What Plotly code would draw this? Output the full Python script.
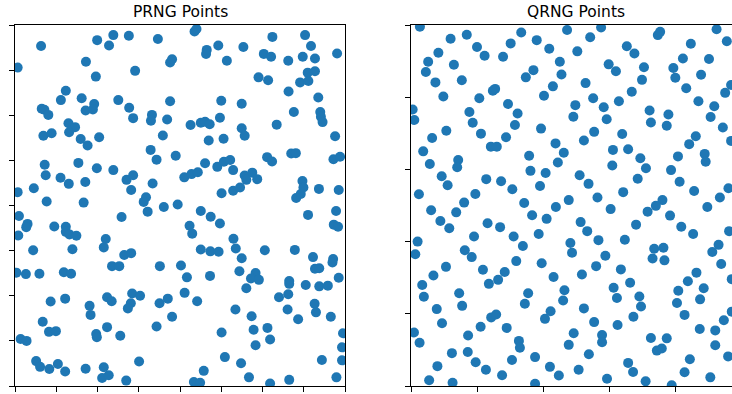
import plotly.graph_objects as go

# Points drawn from a pseudo-random generator (unit square)
prng_x = [
    0.079, 0.249, 0.298, 0.285, 0.345, 0.433, 0.008, 0.215, 0.364, 0.470, 0.476, 0.245,
    0.154, 0.139, 0.202, 0.240, 0.214, 0.236, 0.313, 0.346, 0.358, 0.470, 0.081, 0.089,
    0.101, 0.415, 0.412, 0.461, 0.162, 0.182, 0.164, 0.086, 0.111, 0.199, 0.220, 0.255,
    0.448, 0.411, 0.429, 0.487, 0.090, 0.192, 0.248, 0.298, 0.093, 0.138, 0.163, 0.213,
    0.338, 0.358, 0.352, 0.417, 0.513, 0.008, 0.057, 0.096, 0.208, 0.397, 0.390, 0.402,
    0.451, 0.493,
    0.544, 0.550, 0.780, 0.879, 0.616, 0.692, 0.581, 0.579, 0.642, 0.754, 0.776, 0.828,
    0.872, 0.897, 0.909, 0.976, 0.887, 0.909, 0.864, 0.889, 0.738, 0.767, 0.829, 0.919,
    0.625, 0.687, 0.845, 0.925, 0.927, 0.932, 0.621, 0.532, 0.563, 0.576, 0.590, 0.793,
    0.687, 0.696, 0.587, 0.632, 0.970, 0.837, 0.851, 0.764, 0.779, 0.965, 0.985, 0.576,
    0.613, 0.633, 0.652, 0.661, 0.535, 0.554, 0.696, 0.719, 0.701, 0.734, 0.871, 0.874,
    0.626, 0.661, 0.682, 0.852, 0.866, 0.921, 0.981, 0.563, 0.973,
    0.012, 0.038, 0.034, 0.010, 0.119, 0.154, 0.154, 0.165, 0.186, 0.323, 0.275, 0.269,
    0.055, 0.174, 0.331, 0.352, 0.004, 0.033, 0.074, 0.148, 0.170, 0.294, 0.316, 0.439,
    0.503, 0.521, 0.514, 0.108, 0.152, 0.226, 0.229, 0.279, 0.293, 0.355, 0.379, 0.351,
    0.342, 0.438, 0.463, 0.476, 0.084, 0.103, 0.124, 0.279, 0.246, 0.248, 0.319, 0.429,
    0.017, 0.035, 0.064, 0.076, 0.104, 0.130, 0.152, 0.214, 0.269, 0.264, 0.284, 0.337,
    0.376,
    0.593, 0.621, 0.529, 0.537, 0.888, 0.966, 0.979, 0.662, 0.669, 0.563, 0.592, 0.617,
    0.687, 0.757, 0.848, 0.903, 0.964, 0.962, 0.591, 0.680, 0.729, 0.715, 0.739, 0.909,
    0.922, 0.981, 0.552, 0.701, 0.831, 0.831, 0.881, 0.922, 0.948, 0.828, 0.800, 0.668,
    0.826, 0.908, 0.912, 0.858, 0.957, 0.717, 0.723, 0.765, 0.773, 0.626, 0.729, 0.994,
    0.991, 0.991, 0.930, 0.636, 0.685, 0.572, 0.542, 0.561, 0.709, 0.773, 0.831, 0.974,
]
prng_y = [
    0.942, 0.958, 0.972, 0.943, 0.970, 0.961, 0.882, 0.898, 0.873, 0.896, 0.905, 0.857,
    0.818, 0.792, 0.797, 0.781, 0.763, 0.766, 0.792, 0.771, 0.742, 0.789, 0.768, 0.765,
    0.751, 0.751, 0.735, 0.738, 0.728, 0.717, 0.703, 0.693, 0.700, 0.684, 0.666, 0.689,
    0.694, 0.654, 0.627, 0.638, 0.613, 0.618, 0.603, 0.598, 0.584, 0.577, 0.560, 0.565,
    0.571, 0.584, 0.543, 0.561, 0.578, 0.537, 0.548, 0.511, 0.508, 0.523, 0.510, 0.483,
    0.496, 0.503,
    0.982, 0.989, 0.967, 0.972, 0.943, 0.939, 0.931, 0.920, 0.901, 0.920, 0.912, 0.901,
    0.912, 0.942, 0.907, 0.921, 0.868, 0.872, 0.841, 0.845, 0.855, 0.847, 0.816, 0.799,
    0.790, 0.782, 0.759, 0.759, 0.746, 0.731, 0.743, 0.723, 0.729, 0.732, 0.725, 0.724,
    0.714, 0.693, 0.680, 0.685, 0.692, 0.644, 0.645, 0.634, 0.622, 0.628, 0.635, 0.617,
    0.607, 0.621, 0.626, 0.598, 0.587, 0.592, 0.583, 0.591, 0.571, 0.573, 0.568, 0.550,
    0.534, 0.541, 0.550, 0.521, 0.532, 0.546, 0.543, 0.485, 0.485,
    0.471, 0.449, 0.440, 0.417, 0.442, 0.441, 0.427, 0.420, 0.416, 0.468, 0.407, 0.384,
    0.376, 0.379, 0.363, 0.368, 0.314, 0.310, 0.311, 0.315, 0.311, 0.332, 0.332, 0.332,
    0.334, 0.301, 0.258, 0.234, 0.242, 0.222, 0.197, 0.246, 0.235, 0.256, 0.250, 0.229,
    0.215, 0.229, 0.242, 0.192, 0.178, 0.150, 0.152, 0.163, 0.144, 0.135, 0.139, 0.165,
    0.130, 0.125, 0.069, 0.053, 0.047, 0.061, 0.040, 0.048, 0.052, 0.022, 0.030, 0.015,
    0.068,
    0.469, 0.450, 0.444, 0.422, 0.474, 0.447, 0.441, 0.408, 0.381, 0.378, 0.373, 0.372,
    0.354, 0.376, 0.377, 0.357, 0.352, 0.342, 0.305, 0.318, 0.313, 0.298, 0.294, 0.325,
    0.326, 0.300, 0.235, 0.271, 0.291, 0.283, 0.280, 0.276, 0.278, 0.254, 0.246, 0.212,
    0.212, 0.228, 0.204, 0.185, 0.192, 0.193, 0.156, 0.161, 0.129, 0.148, 0.113, 0.146,
    0.107, 0.071, 0.072, 0.080, 0.063, 0.042, 0.011, 0.009, 0.024, 0.007, 0.017, 0.024,
]

# Points drawn from a quasi-random (low-discrepancy) generator
qrng_x = [
    0.027, 0.120, 0.169, 0.200, 0.223, 0.083, 0.052, 0.045, 0.130, 0.074, 0.154, 0.098,
    0.207, 0.248, 0.255, 0.334, 0.302, 0.279, 0.381, 0.419, 0.451, 0.473, 0.371, 0.348,
    0.456, 0.430, 0.403, 0.294, 0.323, 0.315, 0.288, 0.005, 0.010, 0.177, 0.187, 0.212,
    0.242, 0.260, 0.107, 0.064, 0.037, 0.057, 0.143, 0.140, 0.394, 0.438, 0.358, 0.445,
    0.463, 0.362, 0.408, 0.093, 0.111, 0.228, 0.273, 0.307, 0.391, 0.024, 0.195, 0.161,
    0.343, 0.061, 0.137, 0.439, 0.478,
    0.543, 0.576, 0.504, 0.529, 0.599, 0.621, 0.654, 0.677, 0.706, 0.700, 0.669, 0.630,
    0.584, 0.593, 0.552, 0.498, 0.492, 0.555, 0.524, 0.640, 0.612, 0.658, 0.695, 0.712,
    0.610, 0.687, 0.511, 0.538, 0.565, 0.643, 0.605, 0.748, 0.755, 0.848, 0.824, 0.795,
    0.801, 0.834, 0.903, 0.879, 0.926, 0.957, 0.952, 0.970, 0.871, 0.919, 0.908, 0.945,
    0.970, 0.723, 0.727, 0.780, 0.775, 0.863, 0.843, 0.809, 0.890, 0.893, 0.788, 0.814,
    0.858, 0.962, 0.936, 0.762, 0.742, 0.898, 0.717,
    0.089, 0.116, 0.020, 0.013, 0.191, 0.232, 0.270, 0.367, 0.411, 0.311, 0.339, 0.387,
    0.163, 0.184, 0.319, 0.396, 0.106, 0.068, 0.034, 0.039, 0.218, 0.284, 0.264, 0.236,
    0.432, 0.146, 0.155, 0.355, 0.345, 0.465, 0.461, 0.078, 0.094, 0.009, 0.026, 0.243,
    0.258, 0.211, 0.173, 0.290, 0.406, 0.423, 0.327, 0.330, 0.124, 0.172, 0.196, 0.227,
    0.276, 0.306, 0.376, 0.080, 0.055, 0.126, 0.421, 0.448, 0.376,
    0.514, 0.534, 0.568, 0.483, 0.488, 0.589, 0.561, 0.518, 0.524, 0.555, 0.493, 0.478,
    0.539, 0.579, 0.579, 0.626, 0.674, 0.697, 0.692, 0.624, 0.614, 0.636, 0.664, 0.648,
    0.682, 0.785, 0.819, 0.855, 0.964, 0.932, 0.913, 0.940, 0.737, 0.765, 0.732, 0.768,
    0.865, 0.839, 0.810, 0.887, 0.876, 0.806, 0.829, 0.972, 0.972, 0.948, 0.922, 0.875,
    0.727, 0.775, 0.745, 0.760, 0.922, 0.961, 0.845, 0.658, 0.673, 0.594, 0.508, 0.711,
    0.790, 0.829, 0.907,
]
qrng_y = [
    0.995, 0.962, 0.973, 0.939, 0.915, 0.923, 0.898, 0.870, 0.890, 0.841, 0.847, 0.802,
    0.797, 0.818, 0.823, 0.979, 0.949, 0.912, 0.958, 0.934, 0.898, 0.986, 0.875, 0.855,
    0.863, 0.830, 0.804, 0.781, 0.755, 0.723, 0.689, 0.766, 0.737, 0.759, 0.729, 0.699,
    0.663, 0.663, 0.707, 0.687, 0.650, 0.615, 0.626, 0.606, 0.713, 0.672, 0.638, 0.619,
    0.646, 0.596, 0.590, 0.581, 0.556, 0.573, 0.567, 0.545, 0.554, 0.531, 0.532, 0.508,
    0.507, 0.487, 0.481, 0.496, 0.515,
    0.966, 0.993, 0.927, 0.839, 0.891, 0.872, 0.941, 0.921, 0.883, 0.848, 0.815, 0.789,
    0.772, 0.739, 0.797, 0.778, 0.746, 0.704, 0.680, 0.698, 0.654, 0.656, 0.631, 0.603,
    0.611, 0.574, 0.584, 0.560, 0.522, 0.537, 0.490, 0.972, 0.981, 0.948, 0.907, 0.881,
    0.854, 0.825, 0.906, 0.862, 0.988, 0.955, 0.812, 0.834, 0.789, 0.775, 0.745, 0.716,
    0.679, 0.763, 0.730, 0.752, 0.721, 0.692, 0.670, 0.636, 0.643, 0.621, 0.598, 0.566,
    0.540, 0.548, 0.522, 0.515, 0.499, 0.496, 0.483,
    0.457, 0.437, 0.400, 0.365, 0.414, 0.451, 0.440, 0.473, 0.463, 0.414, 0.388, 0.421,
    0.376, 0.357, 0.346, 0.340, 0.330, 0.306, 0.280, 0.247, 0.322, 0.316, 0.294, 0.283,
    0.302, 0.257, 0.222, 0.257, 0.228, 0.265, 0.237, 0.213, 0.174, 0.148, 0.120, 0.190,
    0.198, 0.164, 0.140, 0.161, 0.186, 0.207, 0.125, 0.106, 0.091, 0.094, 0.066, 0.045,
    0.030, 0.072, 0.080, 0.055, 0.016, 0.009, 0.053, 0.029, 0.006,
    0.454, 0.429, 0.404, 0.396, 0.369, 0.361, 0.332, 0.309, 0.215, 0.177, 0.146, 0.114,
    0.088, 0.141, 0.121, 0.169, 0.192, 0.220, 0.248, 0.244, 0.272, 0.323, 0.286, 0.405,
    0.447, 0.472, 0.441, 0.421, 0.429, 0.391, 0.371, 0.338, 0.380, 0.383, 0.353, 0.348,
    0.314, 0.290, 0.264, 0.271, 0.240, 0.230, 0.197, 0.296, 0.206, 0.182, 0.154, 0.158,
    0.133, 0.132, 0.098, 0.104, 0.113, 0.082, 0.074, 0.064, 0.039, 0.020, 0.045, 0.013,
    0.002, 0.038, 0.024,
]

titles = ["PRNG Points", "QRNG Points"]
prng_ticks = [i / 8 for i in range(9)]
qrng_ticks = [i / 5 for i in range(6)]

W, H = 732, 394
BLUE = "#1f77b4"

fig = go.Figure()
fig.add_trace(go.Scatter(x=prng_x, y=prng_y, mode="markers", xaxis="x", yaxis="y",
                         marker=dict(color=BLUE, size=10), cliponaxis=True,
                         showlegend=False, hoverinfo="skip"))
fig.add_trace(go.Scatter(x=qrng_x, y=qrng_y, mode="markers", xaxis="x2", yaxis="y2",
                         marker=dict(color=BLUE, size=10), cliponaxis=True,
                         showlegend=False, hoverinfo="skip"))

def axis_style(**kw):
    base = dict(showline=True, linecolor="black", linewidth=1, ticks="outside",
                ticklen=5, tickwidth=1, tickcolor="black", showticklabels=False,
                showgrid=False, zeroline=False, fixedrange=True)
    base.update(kw)
    return base

# pixel geometry of the two panels
top, bottom = 25, 386
ydom = [(H - bottom) / H, (H - top) / H]
left_px = (15, 345)
right_px = (411, 741)
panel_w = 330

fig.update_layout(
    width=W, height=H,
    margin=dict(l=0, r=0, t=0, b=0),
    paper_bgcolor="white", plot_bgcolor="white",
    font=dict(family="DejaVu Sans", color="black"),
    xaxis=axis_style(domain=[left_px[0] / W, left_px[1] / W], range=[0, 1],
                     tickvals=prng_ticks, mirror=True, anchor="y"),
    yaxis=axis_style(domain=ydom, range=[0, 1], tickvals=prng_ticks,
                     mirror=True, anchor="x"),
    xaxis2=axis_style(domain=[right_px[0] / W, 1.0],
                      range=[0, (W - right_px[0]) / panel_w],
                      tickvals=qrng_ticks, mirror=True, anchor="y2"),
    yaxis2=axis_style(domain=ydom, range=[0, 1], tickvals=qrng_ticks,
                      mirror=False, anchor="x2"),
)

centers = [(left_px[0] + left_px[1]) / 2, (right_px[0] + right_px[1]) / 2]
for text, cx in zip(titles, centers):
    fig.add_annotation(text=text, x=cx / W, y=(H - 12) / H, xref="paper", yref="paper",
                       xanchor="center", yanchor="middle", showarrow=False,
                       font=dict(size=15.5, family="DejaVu Sans", color="black"))

fig.write_html("out.html")
